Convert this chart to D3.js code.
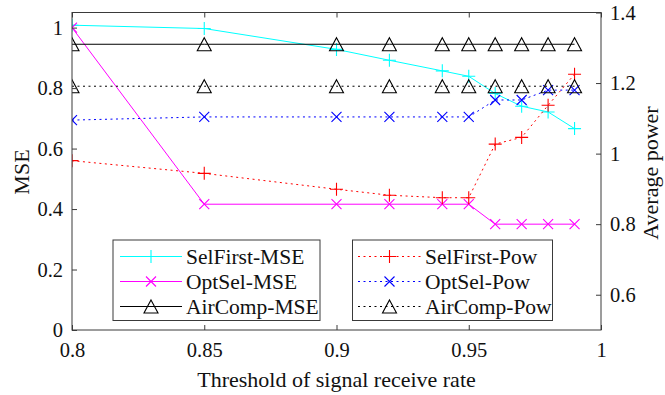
<!DOCTYPE html>
<html>
<head>
<meta charset="utf-8">
<script src="https://cdn.jsdelivr.net/npm/d3@7"></script>
<style>
  html, body { margin: 0; padding: 0; background: #fff; }
  svg { display: block; font-family: "Liberation Serif", "Times New Roman", serif; }
</style>
</head>
<body>
<svg id="chart" width="665" height="395"></svg>
<script>
// Threshold values on the x axis
const thresholds = [0.8, 0.85, 0.9, 0.92, 0.94, 0.95, 0.96, 0.97, 0.98, 0.99];

// MSE series (left axis)
const selFirstMSE = [1.008, 0.997, 0.928, 0.892, 0.857, 0.839, 0.782, 0.740, 0.721, 0.666];
const optSelMSE   = [1.000, 0.416, 0.416, 0.416, 0.416, 0.416, 0.350, 0.350, 0.350, 0.350];
const airCompMSE  = [0.945, 0.945, 0.945, 0.945, 0.945, 0.945, 0.945, 0.945, 0.945, 0.945];

// Average power series (right axis)
const selFirstPow = [0.980, 0.944, 0.899, 0.882, 0.875, 0.875, 1.027, 1.046, 1.137, 1.225];
const optSelPow   = [1.095, 1.104, 1.104, 1.104, 1.104, 1.104, 1.152, 1.152, 1.180, 1.180];
const airCompPow  = [1.191, 1.191, 1.191, 1.191, 1.191, 1.191, 1.191, 1.191, 1.191, 1.191];

// Tick labels
const xTicks = [0.8, 0.85, 0.9, 0.95, 1];
const xTickLabels = ["0.8", "0.85", "0.9", "0.95", "1"];
const leftTicks = [0, 0.2, 0.4, 0.6, 0.8, 1];
const leftTickLabels = ["0", "0.2", "0.4", "0.6", "0.8", "1"];
const rightTicks = [0.6, 0.8, 1, 1.2, 1.4];
const rightTickLabels = ["0.6", "0.8", "1", "1.2", "1.4"];

const svg = d3.select("#chart");
const L = 72, R = 601, T = 12.5, B = 330;
const axisColor = "#3a3a3a";
const tickFont = 20.5;
const legendFont = 21.5;
const titleFont = 22;

const x = d3.scaleLinear().domain([0.8, 1]).range([L, R]);
const yL = d3.scaleLinear().domain([0, 1.05]).range([B, T]);
const yR = d3.scaleLinear().domain([0.5, 1.4]).range([B, T]);

svg.append("defs").append("clipPath").attr("id", "plotClip")
  .append("rect").attr("x", L).attr("y", T).attr("width", R - L).attr("height", B - T);

// Marker shape generators
function drawMarker(g, type, cx, cy, color) {
  if (type === "plus") {
    const s = 6.5;
    g.append("path").attr("d", `M${cx - s},${cy}H${cx + s}M${cx},${cy - s}V${cy + s}`)
      .attr("stroke", color).attr("stroke-width", 1.1).attr("fill", "none");
  } else if (type === "cross") {
    const s = 5;
    g.append("path").attr("d", `M${cx - s},${cy - s}L${cx + s},${cy + s}M${cx - s},${cy + s}L${cx + s},${cy - s}`)
      .attr("stroke", color).attr("stroke-width", 1.1).attr("fill", "none");
  } else if (type === "tri") {
    const w = 7, h = 6.5;
    g.append("path").attr("d", `M${cx},${cy - h}L${cx + w},${cy + h}L${cx - w},${cy + h}Z`)
      .attr("stroke", "#000").attr("stroke-width", 1.1).attr("fill", "none");
  }
}

const series = [
  { name: "SelFirst-MSE", values: selFirstMSE, scale: yL, color: "#00ffff", dash: null, marker: "plus" },
  { name: "OptSel-MSE",   values: optSelMSE,   scale: yL, color: "#ff00ff", dash: null, marker: "cross" },
  { name: "AirComp-MSE",  values: airCompMSE,  scale: yL, color: "#000000", dash: null, marker: "tri" },
  { name: "SelFirst-Pow", values: selFirstPow, scale: yR, color: "#ff0000", dash: "2,3.5", marker: "plus" },
  { name: "OptSel-Pow",   values: optSelPow,   scale: yR, color: "#0000ff", dash: "2,3.5", marker: "cross" },
  { name: "AirComp-Pow",  values: airCompPow,  scale: yR, color: "#000000", dash: "2,3.5", marker: "tri" }
];

const plot = svg.append("g").attr("clip-path", "url(#plotClip)");

series.forEach(s => {
  const line = d3.line().x((d, i) => x(thresholds[i])).y(d => s.scale(d));
  plot.append("path").datum(s.values)
    .attr("d", line)
    .attr("fill", "none")
    .attr("stroke", s.color)
    .attr("stroke-width", 1)
    .attr("stroke-dasharray", s.dash);
  const mg = plot.append("g");
  s.values.forEach((v, i) => drawMarker(mg, s.marker, x(thresholds[i]), s.scale(v), s.color));
});

// Axes box
svg.append("rect").attr("x", L).attr("y", T).attr("width", R - L).attr("height", B - T)
  .attr("fill", "none").attr("stroke", axisColor).attr("stroke-width", 1);

const tickLen = 5;
// x ticks (bottom and top, inward)
const xAxisB = d3.axisBottom(x).tickValues(xTicks).tickFormat((d, i) => xTickLabels[i])
  .tickSizeInner(-tickLen).tickSizeOuter(0).tickPadding(12);
const gxb = svg.append("g").attr("transform", `translate(0,${B})`).call(xAxisB);
const xAxisT = d3.axisTop(x).tickValues(xTicks).tickFormat("").tickSizeInner(-tickLen).tickSizeOuter(0);
const gxt = svg.append("g").attr("transform", `translate(0,${T})`).call(xAxisT);

// left axis
const yAxisL = d3.axisLeft(yL).tickValues(leftTicks).tickFormat((d, i) => leftTickLabels[i])
  .tickSizeInner(-tickLen).tickSizeOuter(0).tickPadding(9);
const gyl = svg.append("g").attr("transform", `translate(${L},0)`).call(yAxisL);

// right axis
const yAxisR = d3.axisRight(yR).tickValues(rightTicks).tickFormat((d, i) => rightTickLabels[i])
  .tickSizeInner(-tickLen).tickSizeOuter(0).tickPadding(9);
const gyr = svg.append("g").attr("transform", `translate(${R},0)`).call(yAxisR);

[gxb, gxt, gyl, gyr].forEach(g => {
  g.attr("font-family", null);
  g.select(".domain").remove();
  g.selectAll(".tick line").attr("stroke", axisColor);
  g.selectAll(".tick text").attr("fill", "#111").style("font-size", tickFont + "px")
    .style("font-family", "'Liberation Serif', serif");
});
gxb.selectAll(".tick text").attr("dy", "0.71em");

// axis titles
svg.append("text").attr("x", (L + R) / 2).attr("y", 387).attr("text-anchor", "middle")
  .style("font-size", titleFont + "px").attr("fill", "#111").text("Threshold of signal receive rate");
svg.append("text").attr("transform", `translate(29,172) rotate(-90)`).attr("text-anchor", "middle")
  .style("font-size", titleFont + "px").attr("fill", "#111").text("MSE");
svg.append("text").attr("transform", `translate(658,173) rotate(-90)`).attr("text-anchor", "middle")
  .style("font-size", titleFont + "px").attr("fill", "#111").text("Average power");

// legends
function legend(items, bx, by, bw, bh, lineX0, lineX1, textX) {
  const g = svg.append("g");
  g.append("rect").attr("x", bx).attr("y", by).attr("width", bw).attr("height", bh)
    .attr("fill", "#fff").attr("stroke", axisColor).attr("stroke-width", 1);
  const rows = [256.5, 281.5, 306.5];
  items.forEach((s, i) => {
    const cy = rows[i];
    g.append("line").attr("x1", lineX0).attr("x2", lineX1).attr("y1", cy).attr("y2", cy)
      .attr("stroke", s.color).attr("stroke-width", 1).attr("stroke-dasharray", s.dash);
    drawMarker(g, s.marker, (lineX0 + lineX1) / 2, cy, s.color);
    g.append("text").attr("x", textX).attr("y", cy).attr("dy", "0.35em")
      .style("font-size", legendFont + "px").attr("fill", "#111").text(s.name);
  });
}
legend(series.slice(0, 3), 113, 240, 207, 80.5, 120, 182, 186);
legend(series.slice(3), 352.5, 240, 200, 80.5, 358, 421, 425);
</script>
</body>
</html>
